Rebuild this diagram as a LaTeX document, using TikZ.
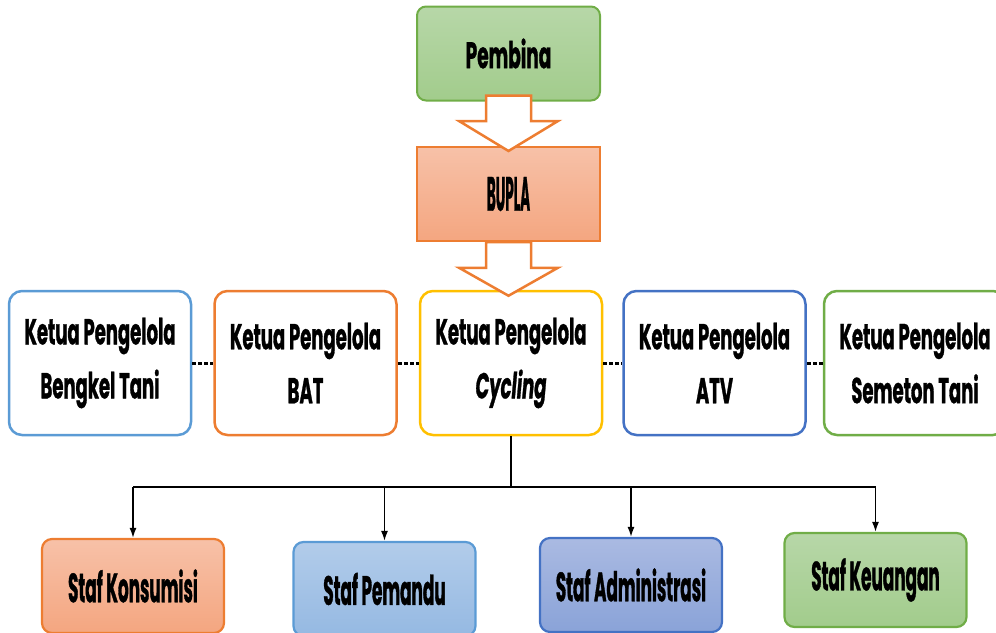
\documentclass[tikz,border=0pt]{standalone}
\usepackage{fontspec}
\setmainfont{Poppins}[FakeStretch=0.5, BoldFeatures={FakeBold=0.8}, BoldItalicFeatures={FakeBold=0.8}]
\newfontfamily\staffont{Poppins}[FakeStretch=0.41, BoldFeatures={FakeBold=0.8}]
\usetikzlibrary{calc,arrows.meta}
\definecolor{gborder}{RGB}{112,173,71}
\definecolor{gtop}{RGB}{183,215,168}
\definecolor{gbot}{RGB}{162,204,140}
\definecolor{oborder}{RGB}{237,125,49}
\definecolor{otop}{RGB}{247,193,168}
\definecolor{obot}{RGB}{244,166,128}
\definecolor{bborder}{RGB}{91,155,213}
\definecolor{btop}{RGB}{178,204,234}
\definecolor{bbot}{RGB}{149,185,226}
\definecolor{dborder}{RGB}{68,114,196}
\definecolor{dtop}{RGB}{170,186,226}
\definecolor{dbot}{RGB}{138,163,216}
\definecolor{yborder}{RGB}{255,192,0}
\tikzset{
  topbox/.style={rectangle, minimum width=183pt, minimum height=94pt, line width=2pt, font=\fontsize{37}{54}\selectfont\bfseries, align=center, inner sep=0pt},
  ketua/.style={rectangle, rounded corners=13pt, minimum width=182pt, minimum height=144pt, line width=2.5pt, fill=white, font=\fontsize{36}{54}\selectfont\bfseries, align=center, inner sep=0pt},
  staf/.style={rectangle, rounded corners=10pt, minimum width=182pt, minimum height=94pt, line width=2.2pt, font=\staffont\fontsize{41}{54}\selectfont\bfseries, align=center, inner sep=0pt},
  blockarrow/.style={draw=oborder, line width=2.5pt, fill=white, line join=miter},
  dotline/.style={line width=3pt, dash pattern=on 4pt off 2pt},
  bar/.style={line width=2.2pt},
  drop/.style={line width=1.5pt, -{Latex[length=10pt,width=7pt]}}
}
\begin{document}
\begin{tikzpicture}[x=1pt,y=-1pt]
\useasboundingbox (0,0) rectangle (996,632);
\clip (0,0) rectangle (996,632);
% top
\node[topbox, rounded corners=9pt, draw=gborder, top color=gtop, bottom color=gbot] (pembina) at (508.5,53.5) {Pembina};
\node[topbox, draw=oborder, top color=otop, bottom color=obot] (bupla) at (508.5,194) {\scalebox{0.73}[1.3]{BUPLA}};
% row of ketua
\node[ketua, draw=bborder] (bengkel) at (100,363) {Ketua Pengelola\\Bengkel Tani};
\node[ketua, draw=oborder] (bat) at (305.5,363) {Ketua Pengelola\\BAT};
\node[ketua, draw=yborder] (cycling) at (511,363) {Ketua Pengelola\\\textit{Cycling}};
\node[ketua, draw=dborder] (atv) at (714.5,363) {Ketua Pengelola\\ATV};
\node[ketua, draw=gborder] (semeton) at (915,363) {Ketua Pengelola\\Semeton Tani};
% block arrows
\draw[blockarrow] let \p1=(pembina.south), \p2=(bupla.north) in
  (\x1-22.5pt,\y1+6pt) -- (\x1+22.5pt,\y1+6pt) -- (\x1+22.5pt,\y2-5pt+30pt) -- (\x1+49.5pt,\y2-5pt+30pt)
  -- (\x1,\y2-5pt) -- (\x1-49.5pt,\y2-5pt+30pt) -- (\x1-22.5pt,\y2-5pt+30pt) -- cycle;
\draw[blockarrow] let \p1=(bupla.south), \p2=(cycling.north) in
  (\x1-22.5pt,\y1) -- (\x1+22.5pt,\y1) -- (\x1+22.5pt,\y2-6pt+28pt) -- (\x1+49.5pt,\y2-6pt+28pt)
  -- (\x1,\y2-6pt) -- (\x1-49.5pt,\y2-6pt+28pt) -- (\x1-22.5pt,\y2-6pt+28pt) -- cycle;
% dotted links
\draw[dotline] (bengkel.east) -- (bat.west);
\draw[dotline] (bat.east) -- (cycling.west);
\draw[dotline] (cycling.east) -- (atv.west);
\draw[dotline] (atv.east) -- (semeton.west);
% staff
\node[staf, draw=oborder, top color=otop, bottom color=obot] (kons) at (133,586) {Staf Konsumisi};
\node[staf, draw=bborder, top color=btop, bottom color=bbot] (pem) at (384.5,589) {Staf Pemandu};
\node[staf, draw=dborder, top color=dtop, bottom color=dbot] (adm) at (631,585) {Staf Administrasi};
\node[staf, draw=gborder, top color=gtop, bottom color=gbot] (keu) at (875.5,580) {Staf Keuangan};
% tree connectors
\draw[bar] (cycling.south) -- ++(0,51) coordinate (hub);
\draw[bar] (kons.north |- hub) -- (keu.north |- hub);
\draw[drop] (kons.north |- hub) -- (kons.north);
\draw[drop] (pem.north |- hub) -- (pem.north);
\draw[drop] (adm.north |- hub) -- (adm.north);
\draw[drop] (keu.north |- hub) -- (keu.north);
\end{tikzpicture}
\end{document}
